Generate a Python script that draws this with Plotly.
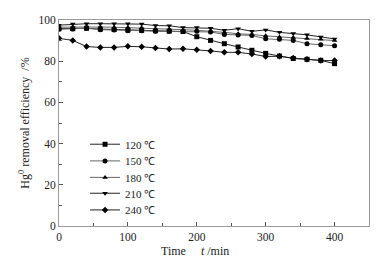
import plotly.graph_objects as go

t = list(range(0, 401, 20))
labels = ["120 ℃", "150 ℃", "180 ℃", "210 ℃", "240 ℃"]
s120 = [95.8, 95.8, 96.0, 95.6, 95.4, 95.2, 95.0, 94.8, 94.6, 94.4, 91.9, 90.1, 88.5, 86.9, 85.3, 83.8, 82.5, 81.3, 80.9, 80.4, 78.8]
s150 = [95.5, 95.6, 96.0, 95.3, 95.2, 94.8, 94.8, 94.5, 94.5, 94.5, 94.5, 94.2, 93.0, 92.7, 92.5, 90.9, 90.6, 90.1, 88.5, 88.0, 87.5]
s180 = [96.5, 96.6, 96.8, 96.6, 96.5, 96.3, 96.2, 95.8, 95.6, 95.3, 95.0, 94.6, 94.0, 93.3, 93.0, 92.3, 91.8, 91.5, 91.0, 90.6, 90.0]
s210 = [97.5, 98.0, 98.2, 98.2, 98.2, 98.2, 98.0, 97.3, 97.2, 96.3, 96.3, 96.0, 95.0, 95.8, 94.5, 95.2, 94.0, 93.5, 92.8, 91.8, 90.8]
s240 = [91.1, 90.1, 87.1, 86.7, 86.7, 87.2, 87.0, 86.4, 85.9, 86.0, 85.6, 85.0, 84.3, 84.3, 83.5, 82.3, 82.4, 81.5, 81.0, 80.3, 80.3]
series = [s120, s150, s180, s210, s240]
symbols = ["square", "circle", "triangle-up", "triangle-down", "diamond"]
line_colors = ["#222222", "#666666", "#666666", "#222222", "#222222"]

font = "Liberation Serif"
legend_names = ["legend", "legend2", "legend3", "legend4", "legend5"]
legend_y = [0.397, 0.316, 0.236, 0.159, 0.078]

fig = go.Figure()
for lab, ys, sym, lc, lg in zip(labels, series, symbols, line_colors, legend_names):
    fig.add_trace(go.Scatter(
        x=t, y=ys, name=lab, mode="lines+markers", legend=lg,
        line=dict(color=lc, width=1),
        marker=dict(symbol=sym, size=5, color="black"),
    ))

axis_common = dict(
    showline=True, mirror=True, linecolor="#9a9a9a", linewidth=1,
    ticks="inside", tickcolor="#555555", ticklen=4,
    showgrid=False, zeroline=False, automargin=False,
    tickfont=dict(family=font, size=11.5, color="#222222"),
)
fig.update_xaxes(range=[0, 450], tickvals=[0, 100, 200, 300, 400],
                 minor=dict(ticks="inside", tickvals=[50, 150, 250, 350], ticklen=3, tickcolor="#555555"),
                 **axis_common)
fig.update_yaxes(range=[0, 100], tickvals=[0, 20, 40, 60, 80, 100],
                 minor=dict(ticks="inside", tickvals=[10, 30, 50, 70, 90], ticklen=3, tickcolor="#555555"),
                 title=dict(text="Hg<sup>0</sup> removal efficiency  /%", font=dict(family=font, size=12, color="#222222"), standoff=6),
                 **axis_common)

fig.add_annotation(text="Time     <i>t</i> /min", xref="paper", yref="paper",
                   x=0.44, y=-0.08, yanchor="top", showarrow=False,
                   font=dict(family=font, size=12, color="#222222"))

legend_layout = {}
for lg, ly in zip(legend_names, legend_y):
    legend_layout[lg] = dict(x=0.084, y=ly, xanchor="left", yanchor="middle",
                             bgcolor="rgba(0,0,0,0)", borderwidth=0,
                             font=dict(family=font, size=11, color="#222222"),
                             itemwidth=30)

# page body has an 8px default margin; compensate so the plot sits where the reference does
fig.update_layout(
    width=379, height=256,
    margin=dict(l=51, r=18, t=12, b=38),
    paper_bgcolor="white", plot_bgcolor="white",
    showlegend=True,
    **legend_layout,
)
fig.write_html("out.html")
